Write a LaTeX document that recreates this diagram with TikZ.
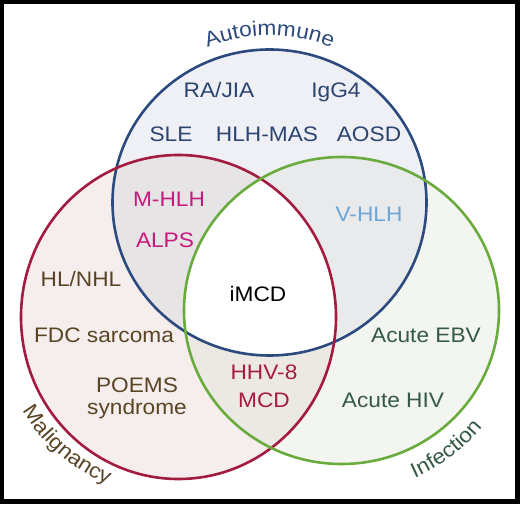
\documentclass[tikz,border=0pt]{standalone}
\usepackage{fontspec}
\setmainfont{Liberation Sans}[FakeStretch=1.08]
\usetikzlibrary{decorations.text}
\definecolor{lineA}{HTML}{2C4A7E}
\definecolor{lineB}{HTML}{A31B3F}
\definecolor{lineC}{HTML}{6AAB3E}
\definecolor{fillA}{HTML}{EEF0F5}
\definecolor{fillB}{HTML}{F6EEEC}
\definecolor{fillC}{HTML}{F3F5F0}
\definecolor{fillAB}{HTML}{E7E4E6}
\definecolor{fillAC}{HTML}{E9EAEB}
\definecolor{fillBC}{HTML}{ECE8E4}
\definecolor{txtA}{HTML}{2C4470}
\definecolor{txtMag}{HTML}{C8197F}
\definecolor{txtV}{HTML}{6AA6D8}
\definecolor{txtBrown}{HTML}{5A4426}
\definecolor{txtRed}{HTML}{A51D3C}
\definecolor{txtGreen}{HTML}{355A45}
\def\vennA{(269.5,301.5) ellipse [x radius=157, y radius=153]}
\def\vennB{(178.5,187) ellipse [x radius=157.5, y radius=162]}
\def\vennC{(341.5,193.5) ellipse [x radius=157.5, y radius=153.5]}
\tikzset{
  lbl/.style={anchor=base, inner sep=0pt, font=\fontsize{21}{24}\selectfont},
  ring/.style={line width=2.6pt},
}
\begin{document}
\begin{tikzpicture}[x=1pt,y=1pt]
\useasboundingbox (0,0) rectangle (520,504);
\fill[black] (0,0) rectangle (520,504);
\fill[white] (4,5) rectangle (515,500);
% fills
\fill[fillA] \vennA;
\fill[fillB] \vennB;
\fill[fillC] \vennC;
\begin{scope}\clip \vennA; \fill[fillAB] \vennB; \end{scope}
\begin{scope}\clip \vennA; \fill[fillAC] \vennC; \end{scope}
\begin{scope}\clip \vennB; \fill[fillBC] \vennC; \end{scope}
\begin{scope}\clip \vennA; \clip \vennB; \fill[white] \vennC; \end{scope}
% outlines
\draw[ring, lineA] \vennA;
\draw[ring, lineB] \vennB;
\draw[ring, lineC] \vennC;
% curved labels
\coordinate (cA) at (269.5,301.5);
\coordinate (cB) at (178.5,187);
\coordinate (cC) at (341.5,193.5);
\path[decorate, decoration={text along path, text align=center,
  text={|\fontsize{21}{24}\selectfont\color{lineA}|Autoimmune}}]
  (cA) ++(135:167) arc[start angle=135, end angle=45, radius=167];
\path[decorate, decoration={text along path, text align=center,
  text={|\fontsize{21}{24}\selectfont\color{txtBrown}|Malignancy}}]
  (cB) ++(196:182) arc[start angle=196, end angle=262, radius=182];
\path[decorate, decoration={text along path, text align=center,
  text={|\fontsize{21}{24}\selectfont\color{txtGreen}|Infection}}]
  (cC) ++(280:183) arc[start angle=280, end angle=334, radius=183];
% labels
\node[lbl, txtA] (rajia) at (219,406) {RA/JIA};
\node[lbl, txtA] (igg) at (336,406) {IgG4};
\node[lbl, txtA] (sle) at (171,362) {SLE};
\node[lbl, txtA] (hlhmas) at (267,362) {HLH-MAS};
\node[lbl, txtA] (aosd) at (369,362) {AOSD};
\node[lbl, txtMag] (mhlh) at (169,297) {M-HLH};
\node[lbl, txtMag] (alps) at (165,256) {ALPS};
\node[lbl, txtV] (vhlh) at (369,282) {V-HLH};
\node[lbl, txtBrown] (hl) at (81,217) {HL/NHL};
\node[lbl, black] (imcd) at (258,202) {iMCD};
\node[lbl, txtBrown] (fdc) at (104,161) {FDC sarcoma};
\node[lbl, txtGreen] (ebv) at (426,161) {Acute EBV};
\node[lbl, txtRed] (hhv) at (264,124) {HHV-8};
\node[lbl, txtRed] (mcd) at (264,96) {MCD};
\node[lbl, txtBrown] (poems) at (137,111) {POEMS};
\node[lbl, txtBrown] (synd) at (137,89) {syndrome};
\node[lbl, txtGreen] (hiv) at (393,96) {Acute HIV};
\end{tikzpicture}
\end{document}
